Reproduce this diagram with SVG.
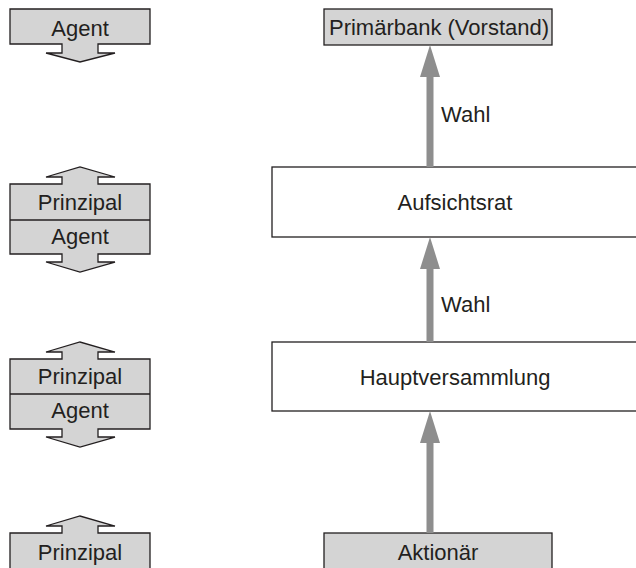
<svg xmlns="http://www.w3.org/2000/svg" width="636" height="568" viewBox="0 0 636 568">
  <style>
    .lbl { font-family: "Liberation Sans", Arial, sans-serif; font-size: 22px; fill: #231f20; text-anchor: middle; }
    .wahl { font-family: "Liberation Sans", Arial, sans-serif; font-size: 22px; fill: #231f20; }
    .role { fill: #d4d4d4; stroke: #231f20; stroke-width: 1.3; stroke-linejoin: miter; }
    .box { fill: #ffffff; stroke: #231f20; stroke-width: 1.3; }
    .gbox { fill: #d4d4d4; stroke: #231f20; stroke-width: 1.3; }
    .div { stroke: #231f20; stroke-width: 1.3; }
    .stem { fill: #8e8e8e; }
  </style>

  <rect width="636" height="568" fill="#ffffff"/>

  <!-- Left column: role shapes -->
  <g id="role-agent">
    <path class="role" d="M10,9 H150 V44 H98 V53 H115 L80,62 L46,53 H62 V44 H10 Z"/>
    <text class="lbl" x="80" y="36">Agent</text>
  </g>

  <g id="role-prinzipal-agent-1">
    <path class="role" d="M10,184 H62 V177 H46 L80,167 L115,177 H98 V184 H150 V254 H98 V262 H115 L80,272 L46,262 H62 V254 H10 Z"/>
    <line class="div" x1="10" y1="220" x2="150" y2="220"/>
    <text class="lbl" x="80" y="210">Prinzipal</text>
    <text class="lbl" x="80" y="244">Agent</text>
  </g>

  <g id="role-prinzipal-agent-2">
    <path class="role" d="M10,359 H62 V352 H46 L80,342 L115,352 H98 V359 H150 V429 H98 V437 H115 L80,447 L46,437 H62 V429 H10 Z"/>
    <line class="div" x1="10" y1="394" x2="150" y2="394"/>
    <text class="lbl" x="80" y="384">Prinzipal</text>
    <text class="lbl" x="80" y="418">Agent</text>
  </g>

  <g id="role-prinzipal">
    <path class="role" d="M10,533 H62 V526 H46 L80,516 L115,526 H98 V533 H150 V580 H10 Z"/>
    <text class="lbl" x="80" y="560">Prinzipal</text>
  </g>

  <!-- Right column: bodies -->
  <g id="primaerbank">
    <rect class="gbox" x="324" y="9" width="228" height="36"/>
    <text class="lbl" x="439" y="35">Primärbank (Vorstand)</text>
  </g>

  <g id="aufsichtsrat">
    <rect class="box" x="272" y="167" width="372" height="70"/>
    <text class="lbl" x="455" y="210">Aufsichtsrat</text>
  </g>

  <g id="hauptversammlung">
    <rect class="box" x="272" y="342" width="372" height="69"/>
    <text class="lbl" x="455" y="385">Hauptversammlung</text>
  </g>

  <g id="aktionaer">
    <rect class="gbox" x="324" y="533" width="228" height="50"/>
    <text class="lbl" x="438" y="560">Aktionär</text>
  </g>

  <!-- Connectors: election arrows -->
  <g id="connectors">
    <rect class="stem" x="426.5" y="76" width="7" height="91"/>
    <polygon class="stem" points="430,45 440,77 420,77"/>
    <text class="wahl" x="441" y="122">Wahl</text>

    <rect class="stem" x="426.5" y="268" width="7" height="74"/>
    <polygon class="stem" points="430,237 440,269 420,269"/>
    <text class="wahl" x="441" y="312">Wahl</text>

    <rect class="stem" x="426.5" y="442" width="7" height="91"/>
    <polygon class="stem" points="430,411 440,443 420,443"/>
  </g>
</svg>
